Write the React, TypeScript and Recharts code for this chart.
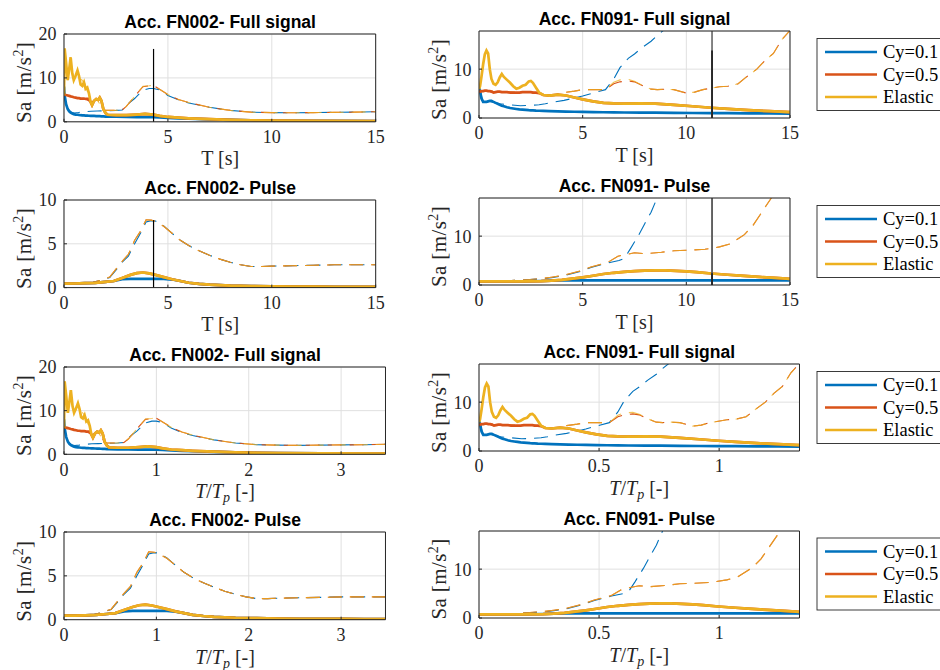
import React from 'react';
import { LineChart, Line, XAxis, YAxis, CartesianGrid, ReferenceLine } from 'recharts';

// ---------- colours / fonts ----------
const BLUE = '#0072BD';
const RED = '#D95319';
const YEL = '#EDB120';
const AX = '#262626';
const GRID = '#E0E0E0';
const SERIF = '"Liberation Serif", "Times New Roman", serif';
const SANS = '"Liberation Sans", Arial, Helvetica, sans-serif';

// ---------- pulse periods ----------
const TP_FN002 = 4.31;
const TP_FN091 = 11.24;

// ---------- FN002 full signal ----------
const T_A_FULL = [0, 0.03, 0.1, 0.18, 0.25, 0.32, 0.4, 0.47, 0.56, 0.65, 0.72, 0.8, 0.88, 0.96, 1.04, 1.12, 1.2, 1.28, 1.35, 1.45, 1.55, 1.65, 1.72, 1.8, 1.9, 2.0, 2.1, 2.5, 3.0, 3.5, 3.9, 4.3, 4.6, 5.0, 5.5, 6.0, 7.0, 8.0, 9.0, 10, 12, 15];
const A_FULL_C01 = [8, 6, 4, 2.9, 2.4, 2.1, 1.9, 1.75, 1.65, 1.6, 1.55, 1.5, 1.47, 1.45, 1.42, 1.4, 1.38, 1.36, 1.35, 1.33, 1.3, 1.28, 1.27, 1.25, 1.23, 1.2, 1.2, 1.15, 1.1, 1.08, 1.06, 1.05, 1.0, 0.9, 0.8, 0.7, 0.55, 0.45, 0.35, 0.3, 0.2, 0.15];
const A_FULL_C05 = [6.2, 6.2, 6.1, 6.0, 5.9, 5.8, 5.7, 5.6, 5.5, 5.4, 5.4, 5.3, 5.3, 5.3, 5.2, 5.2, 5.2, 4.5, 3.8, 4.8, 5.2, 5.0, 5.5, 4.8, 2.8, 2.0, 1.6, 1.5, 1.5, 1.65, 1.8, 1.65, 1.35, 1.1, 0.95, 0.8, 0.6, 0.45, 0.35, 0.3, 0.2, 0.15];
const A_FULL_EL = [6, 16.7, 13.5, 9.5, 12, 14.7, 11, 9.5, 10.5, 11.7, 10.5, 8.5, 8.2, 9, 7.5, 7.8, 6.5, 4.5, 3.8, 4.8, 5.2, 5.0, 5.5, 4.8, 2.8, 2.0, 1.6, 1.5, 1.5, 1.65, 1.8, 1.65, 1.35, 1.1, 0.95, 0.8, 0.6, 0.45, 0.35, 0.3, 0.2, 0.15];
const T_A_FULL_D = [0, 0.03, 0.1, 0.18, 0.25, 0.32, 0.4, 0.5, 0.7, 1.0, 1.3, 1.6, 1.9, 2.0, 2.5, 2.8, 3.0, 3.4, 3.8, 4.1, 4.3, 4.6, 5.0, 5.5, 6.0, 7.0, 8.0, 9.0, 10, 11, 12, 13, 14, 15];
const A_FULL_D01 = [8, 6, 4, 3.0, 2.6, 2.3, 2.1, 2.0, 2.1, 2.3, 2.4, 2.45, 2.5, 2.5, 2.6, 2.7, 3.8, 5.3, 7.2, 7.6, 7.6, 7.3, 6.0, 5.0, 4.3, 3.3, 2.6, 2.2, 2.1, 2.05, 2.1, 2.15, 2.2, 2.3];
const A_FULL_D05 = [6.2, 6.2, 6.1, 6.0, 5.9, 5.8, 5.7, 5.6, 5.4, 5.3, 4.5, 5.0, 2.7, 2.6, 2.6, 2.7, 3.5, 5.8, 8.0, 8.2, 8.3, 7.4, 6.2, 5.1, 4.4, 3.3, 2.6, 2.2, 2.1, 2.05, 2.1, 2.15, 2.2, 2.3];
const A_FULL_DEL = [6, 16.7, 13.5, 9.5, 12, 14.7, 11, 10, 10.5, 8.7, 4.5, 5.0, 2.7, 2.6, 2.6, 2.7, 3.5, 5.8, 8.1, 8.2, 8.4, 7.4, 6.2, 5.1, 4.4, 3.3, 2.6, 2.2, 2.1, 2.05, 2.1, 2.15, 2.2, 2.3];

// ---------- FN002 pulse ----------
const T_A_P = [0, 0.5, 1.0, 1.5, 2.0, 2.4, 2.8, 3.2, 3.5, 3.8, 4.1, 4.4, 4.8, 5.2, 5.6, 6.0, 6.5, 7.0, 8.0, 9.0, 10, 11, 12, 13, 14, 15];
const A_P_C01 = [0.46, 0.47, 0.5, 0.55, 0.65, 0.75, 0.95, 1.0, 1.0, 1.0, 1.0, 1.0, 1.0, 0.92, 0.75, 0.55, 0.42, 0.33, 0.22, 0.17, 0.13, 0.11, 0.1, 0.09, 0.08, 0.08];
const A_P_C05 = [0.46, 0.47, 0.5, 0.55, 0.65, 0.75, 1.1, 1.45, 1.65, 1.72, 1.62, 1.45, 1.2, 0.95, 0.75, 0.55, 0.42, 0.33, 0.22, 0.17, 0.13, 0.11, 0.1, 0.09, 0.08, 0.08];
const A_P_EL = [0.46, 0.47, 0.5, 0.55, 0.65, 0.75, 1.1, 1.45, 1.65, 1.72, 1.62, 1.45, 1.2, 0.95, 0.75, 0.55, 0.42, 0.33, 0.22, 0.17, 0.13, 0.11, 0.1, 0.09, 0.08, 0.08];
const T_A_P_D = [0, 0.5, 1.0, 1.4, 1.8, 2.2, 2.5, 2.8, 3.1, 3.4, 3.7, 3.95, 4.2, 4.4, 4.8, 5.2, 5.6, 6.0, 6.5, 7.0, 7.5, 8.0, 8.5, 9.0, 9.5, 10, 11, 12, 13, 14, 15];
const A_P_D01 = [0.46, 0.47, 0.5, 0.6, 0.85, 1.15, 2.0, 2.9, 3.6, 5.0, 6.3, 7.5, 7.65, 7.6, 7.05, 6.2, 5.4, 4.8, 4.2, 3.7, 3.25, 2.9, 2.6, 2.4, 2.4, 2.45, 2.5, 2.55, 2.6, 2.6, 2.6];
const A_P_D05 = [0.46, 0.47, 0.5, 0.6, 0.85, 1.2, 2.1, 3.0, 3.8, 5.4, 6.5, 7.75, 7.7, 7.55, 7.0, 6.2, 5.4, 4.8, 4.2, 3.7, 3.25, 2.9, 2.6, 2.4, 2.4, 2.45, 2.5, 2.55, 2.6, 2.6, 2.6];
const A_P_DEL = [0.46, 0.47, 0.5, 0.6, 0.85, 1.2, 2.1, 3.0, 3.8, 5.4, 6.5, 7.75, 7.7, 7.55, 7.0, 6.2, 5.4, 4.8, 4.2, 3.7, 3.25, 2.9, 2.6, 2.4, 2.4, 2.45, 2.5, 2.55, 2.6, 2.6, 2.6];

// ---------- FN091 full signal ----------
const T_B_FULL = [0, 0.05, 0.12, 0.2, 0.28, 0.36, 0.44, 0.52, 0.6, 0.7, 0.8, 0.9, 1.0, 1.1, 1.2, 1.35, 1.5, 1.65, 1.8, 1.95, 2.1, 2.25, 2.4, 2.5, 2.6, 2.75, 2.9, 3.1, 3.4, 3.8, 4.2, 4.6, 5.0, 5.5, 6.0, 6.5, 7.0, 7.8, 8.5, 9.4, 10.3, 11.2, 12, 13, 14, 15];
const B_FULL_C01 = [6.2, 5.5, 4.0, 3.3, 3.3, 3.3, 3.4, 3.5, 3.5, 3.3, 3.1, 2.9, 2.7, 2.5, 2.4, 2.2, 2.05, 1.95, 1.85, 1.75, 1.7, 1.65, 1.6, 1.58, 1.55, 1.5, 1.48, 1.45, 1.4, 1.35, 1.3, 1.28, 1.25, 1.2, 1.18, 1.15, 1.13, 1.1, 1.08, 1.05, 1.02, 1.0, 0.98, 0.95, 0.93, 0.9];
const B_FULL_C05 = [5.3, 5.4, 5.5, 5.5, 5.6, 5.6, 5.5, 5.5, 5.4, 5.2, 5.3, 5.4, 5.4, 5.3, 5.3, 5.3, 5.2, 5.2, 5.2, 5.2, 5.3, 5.3, 5.3, 5.3, 5.2, 5.2, 5.1, 4.7, 4.6, 4.8, 4.6, 4.2, 3.8, 3.4, 3.1, 3.0, 2.95, 3.0, 2.95, 2.7, 2.4, 2.1, 1.85, 1.6, 1.4, 1.2];
const B_FULL_EL = [5.9, 6.5, 8.5, 11, 13.0, 13.8, 13.2, 10, 8, 7.0, 6.8, 7.3, 8.3, 9.0, 8.4, 7.8, 7.2, 6.5, 6.0, 6.2, 6.6, 6.8, 7.5, 7.6, 7.2, 6.2, 5.2, 4.7, 4.6, 4.8, 4.6, 4.2, 3.8, 3.4, 3.1, 3.0, 2.95, 3.0, 2.95, 2.7, 2.4, 2.1, 1.85, 1.6, 1.4, 1.2];
const T_B_FULL_D01 = [0, 0.2, 0.5, 1.0, 1.5, 2.0, 2.5, 2.9, 3.2, 3.5, 4.1, 4.6, 5.0, 5.5, 6.1, 6.5, 6.8, 7.2, 7.5, 7.9, 8.3, 8.6, 9.0, 9.4];
const B_FULL_D01 = [6.2, 3.3, 3.4, 2.9, 2.7, 2.5, 2.6, 2.7, 2.9, 3.2, 3.6, 4.1, 4.5, 5.1, 5.8, 8.0, 10.3, 12.2, 13.1, 14.5, 15.7, 16.9, 18.3, 19.6];
const T_B_FULL_D = [0, 0.5, 1.0, 1.5, 2.0, 2.5, 2.9, 3.2, 3.5, 4.1, 4.6, 5.0, 5.5, 6.1, 6.5, 6.8, 7.2, 7.5, 7.9, 8.3, 8.6, 9.0, 9.4, 10.0, 10.4, 10.8, 11.2, 11.6, 12.0, 12.5, 12.9, 13.4, 13.8, 14.2, 14.6, 15];
const B_FULL_D05 = [5.4, 5.5, 5.4, 5.3, 5.2, 5.3, 5.1, 4.7, 4.6, 5.2, 5.5, 5.8, 5.8, 5.8, 7.0, 7.4, 7.6, 7.4, 6.6, 5.9, 5.8, 5.9, 5.8, 5.1, 5.3, 5.8, 6.1, 6.4, 6.5, 7.0, 8.4, 10.0, 11.8, 13.2, 16.0, 17.9];
const B_FULL_DEL = [5.4, 5.5, 5.4, 5.3, 5.2, 5.3, 5.1, 4.7, 4.6, 5.2, 5.5, 5.8, 5.8, 5.8, 7.3, 7.8, 7.9, 7.5, 6.6, 5.9, 5.8, 5.9, 5.8, 5.1, 5.3, 5.8, 6.1, 6.4, 6.5, 7.0, 8.4, 10.0, 11.8, 13.2, 16.0, 17.9];

// ---------- FN091 pulse ----------
const T_B_P = [0, 1, 2, 3, 3.5, 4, 4.5, 5, 5.5, 6, 6.5, 7, 7.5, 8, 8.5, 9, 9.5, 10, 10.5, 11.2, 12, 12.6, 13.5, 14.3, 15];
const B_P_C01 = [0.75, 0.75, 0.76, 0.82, 0.88, 0.92, 0.94, 0.95, 0.95, 0.95, 0.95, 0.95, 0.95, 0.95, 0.95, 0.95, 0.95, 0.95, 0.95, 0.95, 0.95, 0.95, 0.94, 0.93, 0.93];
const B_P_C05 = [0.75, 0.75, 0.76, 0.8, 0.9, 1.05, 1.3, 1.55, 1.9, 2.25, 2.5, 2.7, 2.85, 2.95, 3.0, 2.98, 2.9, 2.78, 2.62, 2.35, 2.1, 1.9, 1.65, 1.45, 1.25];
const B_P_EL = [0.75, 0.75, 0.76, 0.8, 0.9, 1.05, 1.3, 1.55, 1.9, 2.25, 2.5, 2.7, 2.85, 2.95, 3.0, 2.98, 2.9, 2.78, 2.62, 2.35, 2.1, 1.9, 1.65, 1.45, 1.25];
const T_B_P_D01 = [0, 1, 2, 3, 3.5, 4.1, 4.9, 5.4, 6.2, 6.75, 7.0, 7.3, 7.7, 8.0, 8.3, 8.6, 9.0];
const B_P_D01 = [0.75, 0.76, 1.0, 1.25, 1.5, 1.9, 2.8, 3.6, 4.5, 5.0, 5.4, 7.4, 10.2, 12.6, 14.9, 17.9, 21];
const T_B_P_D = [0, 1, 2, 3, 3.5, 4.1, 4.9, 5.4, 6.2, 6.7, 7.5, 8.0, 8.8, 9.4, 10.0, 10.9, 11.6, 12.1, 12.8, 13.2, 14.1, 14.5];
const B_P_D05 = [0.75, 0.76, 1.0, 1.3, 1.6, 2.0, 2.9, 3.7, 4.6, 5.9, 6.6, 6.4, 6.7, 7.0, 7.1, 7.3, 7.8, 8.4, 10.3, 12.1, 17.8, 20.0];
const B_P_DEL = [0.75, 0.76, 1.0, 1.3, 1.6, 2.0, 2.9, 3.7, 4.6, 5.9, 6.6, 6.4, 6.7, 7.0, 7.1, 7.3, 7.8, 8.4, 10.3, 12.1, 17.8, 20.0];

// ---------- axes / labels ----------
const X_TICKS_T = [0, 5, 10, 15];
const X_TICKS_A_NORM = [0, 1, 2, 3];
const X_TICKS_B_NORM = [0, 0.5, 1];
const Y_TICKS_20 = [0, 10, 20];
const Y_TICKS_10 = [0, 5, 10];
const Y_TICKS_B = [0, 10];
const Y_MAX_B = 17.8;
const LEGEND_LABELS = ['Cy=0.1', 'Cy=0.5', 'Elastic'];
const LEGEND_COLORS = [BLUE, RED, YEL];

type Pt = { x: number; y: number };
const pts = (xs: number[], ys: number[], tp = 1): Pt[] => xs.map((x, i) => ({ x: x / tp, y: ys[i] }));

interface DataSet {
  T: number[]; c01: number[]; c05: number[]; el: number[];
  dT01: number[]; d01: number[]; dT: number[]; d05: number[]; del: number[];
}

const A_FULL: DataSet = { T: T_A_FULL, c01: A_FULL_C01, c05: A_FULL_C05, el: A_FULL_EL, dT01: T_A_FULL_D, d01: A_FULL_D01, dT: T_A_FULL_D, d05: A_FULL_D05, del: A_FULL_DEL };
const A_PULSE: DataSet = { T: T_A_P, c01: A_P_C01, c05: A_P_C05, el: A_P_EL, dT01: T_A_P_D, d01: A_P_D01, dT: T_A_P_D, d05: A_P_D05, del: A_P_DEL };
const B_FULL: DataSet = { T: T_B_FULL, c01: B_FULL_C01, c05: B_FULL_C05, el: B_FULL_EL, dT01: T_B_FULL_D01, d01: B_FULL_D01, dT: T_B_FULL_D, d05: B_FULL_D05, del: B_FULL_DEL };
const B_PULSE: DataSet = { T: T_B_P, c01: B_P_C01, c05: B_P_C05, el: B_P_EL, dT01: T_B_P_D01, d01: B_P_D01, dT: T_B_P_D, d05: B_P_D05, del: B_P_DEL };

interface Box { left: number; top: number; width: number; height: number }
interface VLine { x: number; y1: number; y2: number; color: string; w: number }
interface PanelCfg {
  box: Box; title: string; norm: boolean; set: DataSet; tp: number;
  xDomain: [number, number]; xTicks: number[]; yDomain: [number, number]; yTicks: number[];
  vlines: VLine[]; legend: boolean;
}

const TS = 3;
const TICK_FS = 18;
const DASH = '14 8';

function Panel({ cfg }: { cfg: PanelCfg }) {
  const YW = 50, XH = 40, MT = 14, MR = 20;
  const { box, set, tp } = cfg;
  const series = [
    { key: 'd01', data: pts(set.dT01, set.d01, tp), color: BLUE, w: 1.1, dash: DASH, op: 1 },
    { key: 'd05', data: pts(set.dT, set.d05, tp), color: RED, w: 1.1, dash: DASH, op: 1 },
    { key: 'del', data: pts(set.dT, set.del, tp), color: YEL, w: 1.1, dash: DASH, op: 0.75 },
    { key: 'c01', data: pts(set.T, set.c01, tp), color: BLUE, w: 2.7, dash: undefined, op: 1 },
    { key: 'c05', data: pts(set.T, set.c05, tp), color: RED, w: 2.7, dash: undefined, op: 1 },
    { key: 'el', data: pts(set.T, set.el, tp), color: YEL, w: 2.7, dash: undefined, op: 1 },
  ];
  const tickStyle = { fontFamily: SERIF, fontSize: TICK_FS, fill: AX };
  return (
    <div style={{ position: 'absolute', left: box.left - YW, top: box.top - MT }}>
      <LineChart width={YW + box.width + MR} height={MT + box.height + XH} margin={{ top: MT, right: MR, bottom: 0, left: 0 }}>
        <CartesianGrid stroke={GRID} strokeWidth={1} />
        <XAxis type="number" dataKey="x" domain={cfg.xDomain} ticks={cfg.xTicks} allowDataOverflow interval={0}
          height={XH} tickSize={-TS} tickMargin={TS + 8.5} stroke={AX} tick={tickStyle} />
        <XAxis xAxisId="top" orientation="top" type="number" dataKey="x" domain={cfg.xDomain} ticks={cfg.xTicks} allowDataOverflow interval={0}
          height={0.01} tickSize={-TS} tick={false} stroke={AX} />
        <YAxis type="number" domain={cfg.yDomain} ticks={cfg.yTicks} allowDataOverflow interval={0}
          width={YW} tickSize={-TS} tickMargin={TS + 7.5} stroke={AX} tick={tickStyle} />
        <YAxis yAxisId="right" orientation="right" type="number" domain={cfg.yDomain} ticks={cfg.yTicks} allowDataOverflow interval={0}
          width={0.01} tickSize={-TS} tick={false} stroke={AX} />
        {series.map((s) => (
          <Line key={s.key} data={s.data} dataKey="y" type="linear" stroke={s.color} strokeWidth={s.w}
            strokeDasharray={s.dash} strokeOpacity={s.op} dot={false} activeDot={false} legendType="none"
            isAnimationActive={false} />
        ))}
        {cfg.vlines.map((v, i) => (
          <ReferenceLine key={'v' + i} segment={[{ x: v.x, y: v.y1 }, { x: v.x, y: v.y2 }]} stroke={v.color} strokeWidth={v.w} />
        ))}
      </LineChart>
    </div>
  );
}

const PANELS: PanelCfg[] = [
  { box: { left: 64.3, top: 33.5, width: 311.7, height: 87.8 }, title: 'Acc. FN002- Full signal', norm: false, set: A_FULL, tp: 1,
    xDomain: [0, 15], xTicks: X_TICKS_T, yDomain: [0, 20], yTicks: Y_TICKS_20,
    vlines: [{ x: TP_FN002, y1: 0, y2: 16.6, color: '#000', w: 1.2 }], legend: false },
  { box: { left: 479, top: 31, width: 311, height: 87 }, title: 'Acc. FN091- Full signal', norm: false, set: B_FULL, tp: 1,
    xDomain: [0, 15], xTicks: X_TICKS_T, yDomain: [0, Y_MAX_B], yTicks: Y_TICKS_B,
    vlines: [{ x: TP_FN091, y1: 0, y2: Y_MAX_B, color: '#777', w: 1.8 }, { x: TP_FN091, y1: 0, y2: 13.8, color: '#222', w: 1.8 }], legend: true },
  { box: { left: 64.3, top: 199.7, width: 311.7, height: 87.6 }, title: 'Acc. FN002- Pulse', norm: false, set: A_PULSE, tp: 1,
    xDomain: [0, 15], xTicks: X_TICKS_T, yDomain: [0, 10], yTicks: Y_TICKS_10,
    vlines: [{ x: TP_FN002, y1: 0, y2: 7.7, color: '#000', w: 1.2 }], legend: false },
  { box: { left: 479, top: 198, width: 311, height: 87 }, title: 'Acc. FN091- Pulse', norm: false, set: B_PULSE, tp: 1,
    xDomain: [0, 15], xTicks: X_TICKS_T, yDomain: [0, Y_MAX_B], yTicks: Y_TICKS_B,
    vlines: [{ x: TP_FN091, y1: 0, y2: Y_MAX_B, color: '#555', w: 1.8 }, { x: TP_FN091, y1: 0, y2: 2.4, color: '#222', w: 1.8 }], legend: true },
  { box: { left: 64.3, top: 366.7, width: 321.5, height: 87.3 }, title: 'Acc. FN002- Full signal', norm: true, set: A_FULL, tp: TP_FN002,
    xDomain: [0, 15 / TP_FN002], xTicks: X_TICKS_A_NORM, yDomain: [0, 20], yTicks: Y_TICKS_20, vlines: [], legend: false },
  { box: { left: 479, top: 364, width: 320.5, height: 87 }, title: 'Acc. FN091- Full signal', norm: true, set: B_FULL, tp: TP_FN091,
    xDomain: [0, 15 / TP_FN091], xTicks: X_TICKS_B_NORM, yDomain: [0, Y_MAX_B], yTicks: Y_TICKS_B, vlines: [], legend: true },
  { box: { left: 64.3, top: 532.3, width: 321.5, height: 87.7 }, title: 'Acc. FN002- Pulse', norm: true, set: A_PULSE, tp: TP_FN002,
    xDomain: [0, 15 / TP_FN002], xTicks: X_TICKS_A_NORM, yDomain: [0, 10], yTicks: Y_TICKS_10, vlines: [], legend: false },
  { box: { left: 479, top: 530.5, width: 320.5, height: 87 }, title: 'Acc. FN091- Pulse', norm: true, set: B_PULSE, tp: TP_FN091,
    xDomain: [0, 15 / TP_FN091], xTicks: X_TICKS_B_NORM, yDomain: [0, Y_MAX_B], yTicks: Y_TICKS_B, vlines: [], legend: true },
];

function Texts() {
  return (
    <svg width={940} height={670} style={{ position: 'absolute', left: 0, top: 0, pointerEvents: 'none' }}>
      {PANELS.map((p, i) => {
        const cx = p.box.left + p.box.width / 2;
        const cy = p.box.top + p.box.height / 2;
        const bottom = p.box.top + p.box.height;
        const ylx = p.box.left - 33;
        const lyTop = cy - 36;
        return (
          <g key={i}>
            <text x={cx} y={p.box.top - 6} textAnchor="middle" fontFamily={SANS} fontWeight="bold" fontSize={17.5} fill="#000">
              {p.title}
            </text>
            {p.norm ? (
              <text x={cx} y={bottom + 44} textAnchor="middle" fontFamily={SERIF} fontSize={20} fill={AX}>
                <tspan fontStyle="italic">T</tspan>
                <tspan>/</tspan>
                <tspan fontStyle="italic">T</tspan>
                <tspan fontStyle="italic" fontSize={14} dy={4}>p</tspan>
                <tspan dy={-4}> [-]</tspan>
              </text>
            ) : (
              <text x={cx} y={bottom + 44} textAnchor="middle" fontFamily={SERIF} fontSize={20} fill={AX}>T [s]</text>
            )}
            <text x={ylx} y={cy + 5} transform={`rotate(-90 ${ylx} ${cy + 5})`} textAnchor="middle" fontFamily={SERIF} fontSize={21} letterSpacing={0.4} fill={AX}>
              Sa [m/s<tspan fontSize={14} dy={-8}>2</tspan><tspan dy={8}>]</tspan>
            </text>
            {p.legend && (
              <g>
                <rect x={817} y={lyTop} width={200} height={72} fill="#fff" stroke={AX} strokeWidth={0.9} />
                {LEGEND_LABELS.map((lab, k) => {
                  const ly = lyTop + 13.5 + k * 22.5;
                  return (
                    <g key={lab}>
                      <line x1={825} x2={877} y1={ly} y2={ly} stroke={LEGEND_COLORS[k]} strokeWidth={2.7} />
                      <text x={883} y={ly + 6.3} fontFamily={SERIF} fontSize={18.5} fill="#000">{lab}</text>
                    </g>
                  );
                })}
              </g>
            )}
          </g>
        );
      })}
    </svg>
  );
}

export default function App() {
  return (
    <div style={{ position: 'absolute', left: 0, top: 0, width: 940, height: 670, overflow: 'hidden', background: '#fff' }}>
      {PANELS.map((p, i) => (
        <Panel key={i} cfg={p} />
      ))}
      <Texts />
    </div>
  );
}
